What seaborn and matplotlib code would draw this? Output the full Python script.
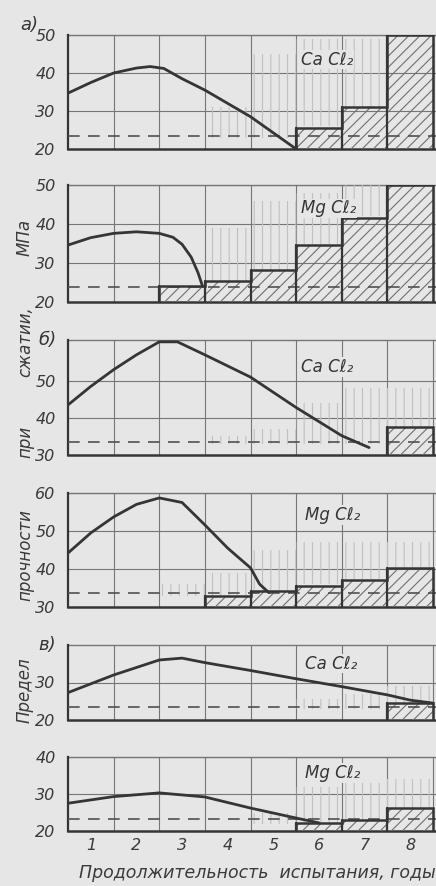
import numpy as np
import pandas as pd
import matplotlib
matplotlib.use("Agg")
import matplotlib.pyplot as plt
import seaborn as sns

sns.set_theme(style="white")
plt.rcParams['font.family'] = ['DejaVu Sans']
plt.rcParams['hatch.linewidth'] = 0.8

# ---------------- data ----------------
years = [1, 2, 3, 4, 5, 6, 7, 8]
ylims = [(20, 50), (20, 50), (30, 61), (30, 60), (20, 40), (20, 40)]
yticks = [[20, 30, 40, 50], [20, 30, 40, 50], [30, 40, 50], [30, 40, 50, 60], [20, 30], [20, 30, 40]]
salts = ["Ca Cℓ₂", "Mg Cℓ₂", "Ca Cℓ₂", "Mg Cℓ₂", "Ca Cℓ₂", "Mg Cℓ₂"]
salt_pos = [(5.1, 43.5), (5.1, 44.0), (5.1, 53.7), (5.2, 54.2), (5.2, 35.0), (5.2, 35.7)]

# strength curves (x in years, y in MPa)
curve_x = [
    [0, 0.5, 1, 1.5, 1.8, 2.1, 2.5, 3, 4, 5],
    [0, 0.5, 1, 1.5, 2, 2.3, 2.5, 2.7, 2.85, 2.95],
    [0, 0.5, 1, 1.5, 2, 2.4, 3, 4, 5, 6, 6.6],
    [0, 0.5, 1, 1.5, 2, 2.5, 3, 3.5, 4, 4.2, 4.4],
    [0, 1, 2, 2.5, 3, 4, 5, 6, 7, 7.5, 8],
    [0, 1, 2, 3, 4, 5, 5.5],
]
curve_y = [
    [34.7, 37.5, 40.0, 41.3, 41.7, 41.2, 38.5, 35.5, 28.5, 20.0],
    [34.6, 36.5, 37.6, 38.0, 37.6, 36.6, 34.8, 31.5, 27.5, 24.0],
    [43.5, 48.5, 53.0, 57.0, 60.5, 60.5, 57.0, 51.0, 42.8, 35.2, 32.0],
    [44.2, 49.5, 53.7, 57.0, 58.7, 57.5, 51.6, 45.5, 40.3, 36.0, 33.8],
    [27.3, 32.0, 36.0, 36.5, 35.3, 33.2, 31.0, 28.9, 26.7, 25.3, 24.5],
    [27.5, 29.3, 30.3, 29.2, 26.2, 23.5, 22.2],
]
# reference (control) level, dashed
control = [23.3, 23.9, 33.5, 33.8, 23.5, 23.2]

# hatched step bars: left edges of yearly intervals and levels
step_x0 = [[5, 6, 7], [2, 3, 4, 5, 6, 7], [7], [3, 4, 5, 6, 7], [7], [5, 6, 7]]
step_val = [[25.5, 31.0, 50.0], [24.0, 25.5, 28.2, 34.7, 41.6, 50.0], [37.5],
            [32.8, 34.2, 35.6, 37.2, 40.2], [24.6], [22.1, 23.0, 26.2]]

# scatter bands (faint vertical marks): interval left edge, low, high
band_x0 = [[3, 4, 5, 6], [3, 4, 5, 6], [3, 4, 5, 6, 7], [2, 3, 4, 5, 6, 7], [5, 6, 7], [4, 5, 6, 7]]
band_lo = [[23, 23, 26, 31], [25.5, 28, 35, 42], [33, 33, 33, 33, 37.5],
           [33, 33, 34.5, 36, 37.5, 40.5], [23, 23, 24.5], [22, 22, 23, 26]]
band_hi = [[31, 45, 49, 49], [39, 46, 48, 50], [35, 37, 44, 48, 48],
           [36, 39, 45, 47, 47, 47], [25.5, 27, 29], [25, 32, 33, 34]]

# --------------- layout ---------------
W, H = 436, 886
panels_px = [(35, 149), (185, 302), (340, 455), (493, 607), (645, 720), (757, 831)]
left_px = 68
x_right = 8 * (W - left_px) / 365.0

ink = "#353535"
grid_c = "#767676"
bg = "#e6e6e6"

fig = plt.figure(figsize=(W / 100, H / 100), dpi=100, facecolor=bg)

for i, (top, bot) in enumerate(panels_px):
    ax = fig.add_axes([left_px / W, 1 - bot / H, (W - left_px) / W, (bot - top) / H])
    ax.set_facecolor(bg)
    ax.set_xlim(0, x_right)
    ax.set_ylim(*ylims[i])

    # grid
    for gx in range(1, 9):
        ax.axvline(gx, color=grid_c, lw=0.8, zorder=1)
    for gy in yticks[i]:
        if gy > ylims[i][0]:
            ax.axhline(gy, color=grid_c, lw=0.8, zorder=1)
    ax.axhline(ylims[i][1], color=grid_c, lw=1.0, zorder=1, clip_on=False)

    # faint scatter bands
    ax.bar(band_x0[i], np.array(band_hi[i]) - np.array(band_lo[i]), bottom=band_lo[i],
           width=1, align="edge", facecolor="none", edgecolor="#c0c0c0", lw=0,
           hatch="||", zorder=2)

    # hatched bars
    base = ylims[i][0]
    ax.bar(step_x0[i], np.array(step_val[i]) - base, bottom=base, width=1, align="edge",
           facecolor="none", edgecolor="#707070", lw=0, hatch="///", zorder=3)
    edges = list(step_x0[i]) + [step_x0[i][-1] + 1]
    ax.stairs(step_val[i], edges, baseline=base, color=ink, lw=1.8, zorder=4)
    for x0, v in zip(step_x0[i], step_val[i]):
        ax.plot([x0, x0], [base, v], color=ink, lw=1.6, zorder=4)

    # control level
    ax.axhline(control[i], color="#505050", lw=1.2, dashes=(7, 5), zorder=3)

    # strength curve
    df = pd.DataFrame({"x": curve_x[i], "y": curve_y[i]})
    sns.lineplot(data=df, x="x", y="y", ax=ax, color=ink, lw=2.0, sort=False,
                 estimator=None, zorder=5)

    # salt label
    ax.text(salt_pos[i][0], salt_pos[i][1], salts[i], fontsize=12, style="italic",
            color=ink, va="center", ha="left", zorder=6,
            bbox=dict(facecolor=bg, edgecolor="none", pad=0.5))

    # spines and ticks
    for s in ["top", "right"]:
        ax.spines[s].set_visible(False)
    ax.spines["left"].set_color(ink)
    ax.spines["left"].set_linewidth(1.6)
    ax.spines["bottom"].set_color(ink)
    ax.spines["bottom"].set_linewidth(1.8)
    ax.set_yticks(yticks[i])
    ax.set_yticklabels([str(t) for t in yticks[i]], fontsize=11.5, style="italic", color="#3a3a3a")
    ax.tick_params(axis="y", length=0, pad=9)
    ax.set_xlabel("")
    ax.set_ylabel("")
    if i == 5:
        ax.set_xticks([y - 0.5 for y in years])
        ax.set_xticklabels([str(y) for y in years], fontsize=11.5, style="italic", color="#3a3a3a")
        ax.tick_params(axis="x", length=0, pad=5)
    else:
        ax.set_xticks([])

# group labels
fig.text(20 / W, 1 - 25 / H, "а)", fontsize=13, style="italic", color=ink, ha="left", va="center")
fig.text(38 / W, 1 - 340 / H, "б)", fontsize=13, style="italic", color=ink, ha="left", va="center")
fig.text(38 / W, 1 - 645 / H, "в)", fontsize=13, style="italic", color=ink, ha="left", va="center")

# y label, word by word
ywords = ["Предел", "прочности", "при", "сжатии,", "МПа"]
ycent = [690, 555, 442, 342, 237]
for w, yc in zip(ywords, ycent):
    fig.text(25 / W, 1 - yc / H, w, fontsize=12, style="italic", color="#3a3a3a",
             rotation=90, ha="center", va="center")

fig.text(257 / W, 1 - 873 / H, "Продолжительность  испытания, годы", fontsize=12.5,
         style="italic", color="#3a3a3a", ha="center", va="center")

fig.savefig("out.png", dpi=100, facecolor=bg)
